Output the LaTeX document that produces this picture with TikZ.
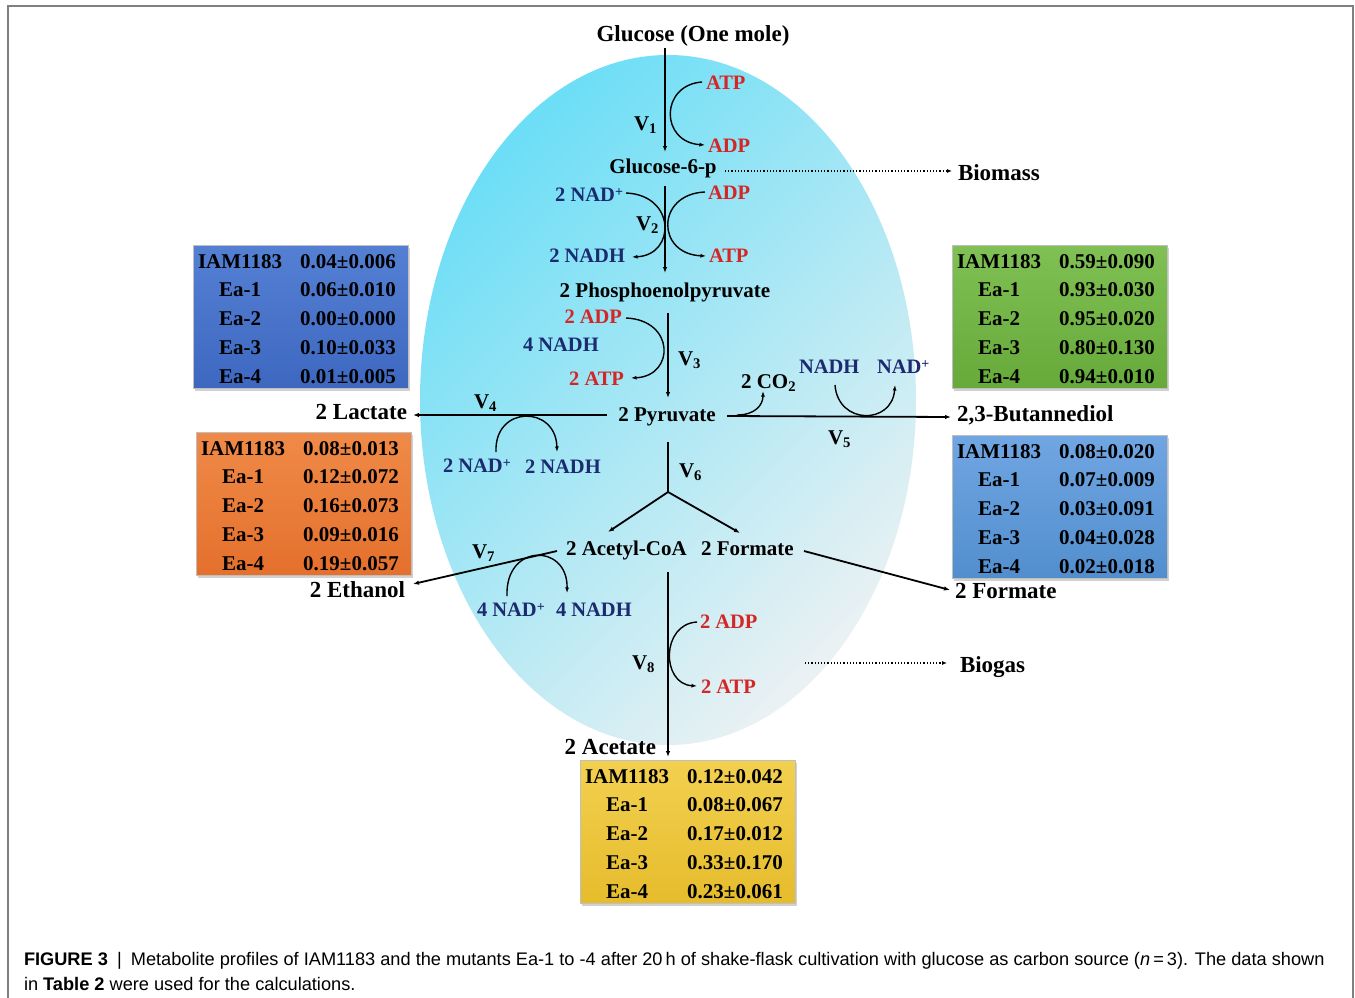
\documentclass[tikz,border=0pt]{standalone}
\usepackage{fontspec}
\setmainfont{Liberation Serif}
\newfontfamily\capfont{Liberation Sans}
\usetikzlibrary{arrows.meta,calc}

\definecolor{myred}{RGB}{212,38,38}
\definecolor{mynavy}{RGB}{28,42,112}
\definecolor{framec}{RGB}{128,128,128}
\definecolor{ellA}{RGB}{108,222,246}
\definecolor{ellB}{RGB}{234,241,243}
\definecolor{tbA}{RGB}{84,128,212}\definecolor{tbB}{RGB}{62,104,192}
\definecolor{toA}{RGB}{240,138,72}\definecolor{toB}{RGB}{228,112,44}
\definecolor{tgA}{RGB}{128,192,84}\definecolor{tgB}{RGB}{102,170,58}
\definecolor{tlA}{RGB}{112,166,226}\definecolor{tlB}{RGB}{82,142,206}
\definecolor{tyA}{RGB}{242,208,80}\definecolor{tyB}{RGB}{230,188,44}

\newcommand\splus{\raisebox{4.5pt}{\fontsize{14}{14}\selectfont +}}

\tikzset{
  every node/.style={inner sep=0pt, outer sep=0pt},
  prod/.style={font=\fontsize{23}{26}\selectfont\bfseries},
  mid/.style={font=\fontsize{21}{24}\selectfont\bfseries},
  redl/.style={font=\fontsize{20.5}{24}\selectfont\bfseries, text=myred},
  navl/.style={font=\fontsize{20.5}{24}\selectfont\bfseries, text=mynavy},
  vlab/.style={font=\fontsize{21}{24}\selectfont\bfseries},
  flow/.style={line width=1.8pt, -{Latex[length=6pt,width=4.5pt]}},
  side/.style={line width=1.4pt, -{Latex[length=5.5pt,width=4pt]}},
  dots/.style={line width=1.2pt, dotted, -{Latex[length=5pt,width=4pt]}},
  tabtext/.style={font=\fontsize{21}{24}\selectfont\bfseries, anchor=base},
  tabbox/.style={draw=black!25, line width=1pt, minimum width=215pt, minimum height=143pt, anchor=north west},
  tblue/.style={tabbox, top color=tbA, bottom color=tbB},
  torange/.style={tabbox, top color=toA, bottom color=toB},
  tgreen/.style={tabbox, top color=tgA, bottom color=tgB},
  tlblue/.style={tabbox, top color=tlA, bottom color=tlB},
  tyellow/.style={tabbox, top color=tyA, bottom color=tyB},
  tshadow/.style={fill=black, opacity=0.18},
  capt/.style={font=\capfont\fontsize{18.2}{21}\selectfont, anchor=base west},
}

\newcommand\mtab[5]{%
  \fill[tshadow] (#2+2,#3+3) rectangle ++(215,143);
  \node[#4] (#1) at (#2,#3) {};
  \foreach \a/\b [count=\i from 0] in {#5} {
    \node[tabtext] (#1a\i) at ([xshift=47pt, yshift={-23pt-28.75pt*\i}]#1.north west) {\a};
    \node[tabtext] (#1b\i) at ([xshift=155pt, yshift={-23pt-28.75pt*\i}]#1.north west) {\b};
  }%
}

\begin{document}
\begin{tikzpicture}[x=1pt,y=-1pt]
\useasboundingbox (0,0) rectangle (1355,998);
\fill[white] (0,0) rectangle (1355,998);
\draw[framec, line width=1.5pt] (8,998) -- (8,6) -- (1353,6) -- (1353,998);

% cell ellipse
\shade[top color=ellA, bottom color=ellB, shading angle=45] (668,400) ellipse [x radius=248pt, y radius=345pt];

% tables
\mtab{tL}{193}{245}{tblue}{IAM1183/0.04±0.006, Ea-1/0.06±0.010, Ea-2/0.00±0.000, Ea-3/0.10±0.033, Ea-4/0.01±0.005}
\mtab{tO}{196}{432}{torange}{IAM1183/0.08±0.013, Ea-1/0.12±0.072, Ea-2/0.16±0.073, Ea-3/0.09±0.016, Ea-4/0.19±0.057}
\mtab{tG}{952}{245}{tgreen}{IAM1183/0.59±0.090, Ea-1/0.93±0.030, Ea-2/0.95±0.020, Ea-3/0.80±0.130, Ea-4/0.94±0.010}
\mtab{tB}{952}{435}{tlblue}{IAM1183/0.08±0.020, Ea-1/0.07±0.009, Ea-2/0.03±0.091, Ea-3/0.04±0.028, Ea-4/0.02±0.018}
\mtab{tY}{580}{760}{tyellow}{IAM1183/0.12±0.042, Ea-1/0.08±0.067, Ea-2/0.17±0.012, Ea-3/0.33±0.170, Ea-4/0.23±0.061}

% labels
\node[prod, anchor=base] (glc) at (693,42) {Glucose (One mole)};
\node[redl, anchor=base west] (atp1) at (706,89) {ATP};
\node[redl, anchor=base west] (adp1) at (708,152) {ADP};
\node[vlab, anchor=base west] (V1) at (634,130) {V\textsubscript{1}};
\node[mid, anchor=base] (g6p) at (663,173) {Glucose-6-p};
\node[prod, anchor=base west] (bio) at (958,180) {Biomass};
\node[navl, anchor=base east] (nad2) at (623,201) {2 NAD\splus};
\node[redl, anchor=base west] (adp2) at (708,199) {ADP};
\node[navl, anchor=base east] (nadh2) at (625,262) {2 NADH};
\node[redl, anchor=base west] (atp2) at (709,262) {ATP};
\node[vlab, anchor=base west] (V2) at (636,230) {V\textsubscript{2}};
\node[mid, anchor=base] (pep) at (665,297) {2 Phosphoenolpyruvate};
\node[redl, anchor=base east] (adp3) at (622,323) {2 ADP};
\node[navl, anchor=base west] (nadh3) at (523,351) {4 NADH};
\node[redl, anchor=base east] (atp3) at (624,385) {2 ATP};
\node[vlab, anchor=base west] (V3) at (678,365) {V\textsubscript{3}};
\node[mid, anchor=base] (pyr) at (667,421) {2 Pyruvate};
\node[prod, anchor=base east] (lac) at (407,419) {2 Lactate};
\node[vlab, anchor=base west] (V4) at (474,408) {V\textsubscript{4}};
\node[navl, anchor=base west] (nad4) at (443,472) {2 NAD\splus};
\node[navl, anchor=base west] (nadh4) at (525,473) {2 NADH};
\node[mid, anchor=base west] (co2) at (741,388) {2 CO\textsubscript{2}};
\node[navl, anchor=base west] (nadh5) at (799,373) {NADH};
\node[navl, anchor=base west] (nad5) at (877,373) {NAD\splus};
\node[prod, anchor=base west] (but) at (957,421) {2,3-Butannediol};
\node[vlab, anchor=base west] (V5) at (828,444) {V\textsubscript{5}};
\node[vlab, anchor=base west] (V6) at (679,477) {V\textsubscript{6}};
\node[mid, anchor=base west] (acoa) at (566,555) {2 Acetyl-CoA};
\node[mid, anchor=base west] (for1) at (701,555) {2 Formate};
\node[vlab, anchor=base west] (V7) at (472,558) {V\textsubscript{7}};
\node[prod, anchor=base east] (eth) at (405,597) {2 Ethanol};
\node[navl, anchor=base west] (nad7) at (477,616) {4 NAD\splus};
\node[navl, anchor=base west] (nadh7) at (556,616) {4 NADH};
\node[prod, anchor=base west] (for2) at (955,598) {2 Formate};
\node[redl, anchor=base west] (adp8) at (700,628) {2 ADP};
\node[vlab, anchor=base west] (V8) at (632,669) {V\textsubscript{8}};
\node[redl, anchor=base west] (atp8) at (701,693) {2 ATP};
\node[prod, anchor=base west] (bgas) at (960,672) {Biogas};
\node[prod, anchor=base east] (ace) at (656,754) {2 Acetate};

% connector end points
\coordinate (v1s) at (665,48);  \coordinate (v1e) at (665,152);
\coordinate (v2s) at (665,186); \coordinate (v2e) at (665,273);
\coordinate (v3s) at (668,313); \coordinate (v3e) at (668,398);
\coordinate (v4s) at (607,415); \coordinate (v4e) at (413,415);
\coordinate (v5s) at (727,416); \coordinate (v5e) at (951,417);
\coordinate (v6s) at (668,442); \coordinate (v6j) at (668,492);
\coordinate (v6a) at (608,532); \coordinate (v6b) at (740,533);
\coordinate (v7s) at (557,551); \coordinate (v7e) at (413,584);
\coordinate (fs) at (804,551);  \coordinate (fe) at (950,590);
\coordinate (v8s) at (668,572); \coordinate (v8e) at (668,757);
\coordinate (bms) at (725,171); \coordinate (bme) at (952,171);
\coordinate (bgs) at (805,663); \coordinate (bge) at (947,663);

% main flow
\draw[flow] (v1s) -- (v1e);
\draw[flow] (v2s) -- (v2e);
\draw[flow] (v3s) -- (v3e);
\draw[flow] (v4s) -- (v4e);
\draw[flow] (v5s) -- (v5e);
\draw[line width=1.8pt] (v6s) -- (v6j);
\draw[flow] (v6j) -- (v6a);
\draw[flow] (v6j) -- (v6b);
\draw[flow] (v7s) -- (v7e);
\draw[flow] (fs) -- (fe);
\draw[flow] (v8s) -- (v8e);
\draw[dots] (bms) -- (bme);
\draw[dots] (bgs) -- (bge);

% cofactor curves
\draw[side] (702,82) .. controls (660,85) and (660,142) .. (705,145);
\draw[side] (626,193) .. controls (676,195) and (676,255) .. (632,257);
\draw[side] (705,192) .. controls (656,194) and (656,254) .. (706,256);
\draw[side] (626,318) .. controls (675,320) and (675,376) .. (631,378);
\draw[side] (496,452) .. controls (494,405) and (556,405) .. (557,452);
\draw[side] (737,415) .. controls (755,415) and (763,405) .. (763,391);
\draw[side] (835,385) .. controls (838,425) and (892,425) .. (895,385);
\draw[side] (507,596) .. controls (505,543) and (568,543) .. (567,593);
\draw[side] (697,622) .. controls (661,624) and (661,684) .. (697,686);

% caption
\node[capt] (cap1) at (24,965) {\textbf{FIGURE 3}\enspace|\enspace Metabolite profiles of IAM1183 and the mutants Ea-1 to -4 after 20\,h of shake-flask cultivation with glucose as carbon source (\textit{n}\,=\,3). The data shown};
\node[capt] (cap2) at (24,990) {in \textbf{Table 2} were used for the calculations.};
\end{tikzpicture}
\end{document}
